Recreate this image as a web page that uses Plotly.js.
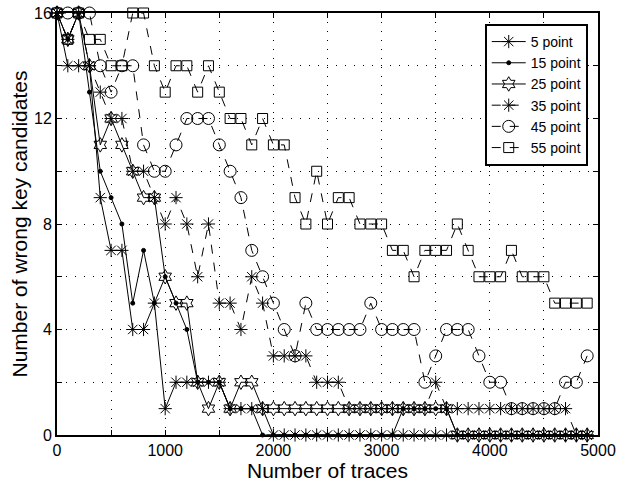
<!DOCTYPE html>
<html>
<head>
<meta charset="utf-8">
<script src="https://cdn.plot.ly/plotly-3.0.1.min.js"></script>
<style>html,body{margin:0;padding:0;background:#fff;}#chart{width:624px;height:488px;}</style>
</head>
<body>
<div id="chart"></div>
<script>
var traces = [0,100,200,300,400,500,600,700,800,900,1000,1100,1200,1300,1400,1500,1600,1700,1800,1900,2000,2100,2200,2300,2400,2500,2600,2700,2800,2900,3000,3100,3200,3300,3400,3500,3600,3700,3800,3900,4000,4100,4200,4300,4400,4500,4600,4700,4800,4900];

var point5  = [16,14,14,14,9,7,7,4,4,5,1,2,2,2,2,2,1,1,1,1,0,0,0,0,0,0,0,0,0,0,0,0,0,0,0,0,0,0,0,0,0,0,0,0,0,0,0,0,0,0];
var point15 = [16,15,16,13,10,9,8,5,7,5,6,5,4,2,2,2,1,1,1,0,0,0,0,0,0,0,0,0,0,0,0,0,1,1,1,1,1,0,0,0,0,0,0,0,0,0,0,0,0,0];
var point25 = [16,15,16,14,11,12,11,10,9,9,6,5,5,2,1,2,1,2,2,1,1,1,1,1,1,1,1,1,1,1,1,1,1,1,1,1,1,0,0,0,0,0,0,0,0,0,0,0,0,0];
var point35 = [16,15,16,14,13,12,12,10,10,9,8,9,8,6,8,5,5,4,6,5,3,3,3,3,2,2,2,1,1,1,1,1,1,1,1,2,1,1,1,1,1,1,1,1,1,1,1,1,0,0];
var point45 = [16,16,16,16,14,13,14,14,11,10,10,11,12,12,12,11,10,9,7,6,5,4,3,5,4,4,4,4,4,5,4,4,4,4,2,3,4,4,4,3,2,2,1,1,1,1,1,2,2,3];
var point55 = [16,15,16,15,15,14,14,16,16,14,13,14,14,13,14,13,12,12,11,12,11,11,9,8,10,8,9,9,8,8,8,7,7,6,7,7,7,8,7,6,6,6,7,6,6,6,5,5,5,5];

var seriesNames = ['5 point','15 point','25 point','35 point','45 point','55 point'];
var xTickVals = [0,500,1000,1500,2000,2500,3000,3500,4000,4500,5000];
var xTickText = ['0','','1000','','2000','','3000','','4000','','5000'];
var yTickVals = [0,2,4,6,8,10,12,14,16];
var yTickText = ['0','','4','','8','','12','','16'];

var seriesData = [point5, point15, point25, point35, point45, point55];
var symbols = ['asterisk-open','circle','hexagram-open','asterisk-open','circle-open','square-open'];
var sizes = [11,4,11,11,12,10];
var dashes = ['solid','solid','solid','dash','dash','dash'];

var data = seriesData.map(function(vals, i){
  return {
    x: traces, y: vals, name: seriesNames[i], type: 'scatter', mode: 'lines+markers',
    cliponaxis: false,
    line: {color: '#000', width: 1, dash: dashes[i]},
    marker: {symbol: symbols[i], size: sizes[i], color: '#000', line: {color: '#000', width: 1}}
  };
});

var axisCommon = {
  showline: true, linecolor: '#000', linewidth: 2, mirror: 'ticks',
  ticks: 'inside', ticklen: 5, tickcolor: '#000', tickwidth: 1,
  showgrid: true, gridcolor: '#000', gridwidth: 1, griddash: '1px,8px',
  zeroline: false, tickfont: {size: 16, color: '#000'}
};

var layout = {
  width: 624, height: 488,
  margin: {l: 57, r: 26, t: 13, b: 53},
  paper_bgcolor: '#fff', plot_bgcolor: '#fff',
  font: {family: 'Liberation Sans, Arial, sans-serif', color: '#000'},
  showlegend: true,
  legend: {x: 0.981, xanchor: 'right', y: 0.974, yanchor: 'top',
           bgcolor: '#fff', bordercolor: '#000', borderwidth: 2,
           font: {size: 14, color: '#000'}, itemwidth: 34, tracegroupgap: 0},
  xaxis: Object.assign({}, axisCommon, {
    range: [0, 5000], tickmode: 'array', tickvals: xTickVals, ticktext: xTickText,
    title: {text: 'Number of traces', font: {size: 21, color: '#000'}, standoff: 3}
  }),
  yaxis: Object.assign({}, axisCommon, {
    range: [0, 16], tickmode: 'array', tickvals: yTickVals, ticktext: yTickText,
    title: {text: 'Number of wrong key candidates', font: {size: 21, color: '#000'}, standoff: 1}
  })
};

Plotly.newPlot('chart', data, layout, {displayModeBar: false, staticPlot: true});
</script>
</body>
</html>
